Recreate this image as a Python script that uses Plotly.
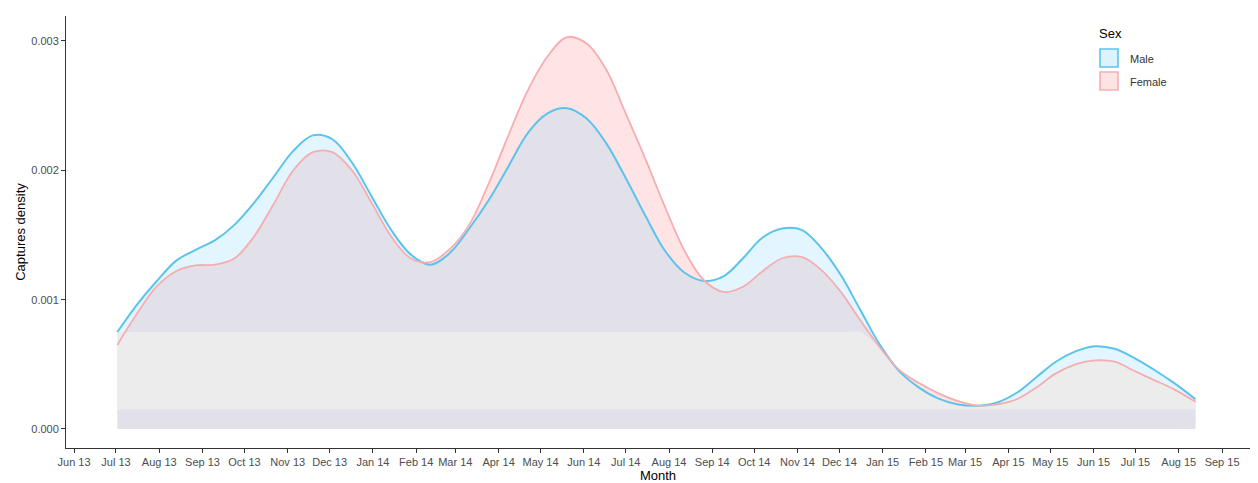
import plotly.graph_objects as go

dates = [
    "2013-07-02", "2013-07-16", "2013-07-30", "2013-08-13", "2013-08-27", "2013-09-10",
    "2013-09-24", "2013-10-08", "2013-10-22", "2013-11-05", "2013-11-19", "2013-12-03",
    "2013-12-17", "2013-12-31", "2014-01-14", "2014-01-28", "2014-02-11", "2014-02-25",
    "2014-03-11", "2014-03-25", "2014-04-08", "2014-04-22", "2014-05-06", "2014-05-20",
    "2014-06-03", "2014-06-17", "2014-07-01", "2014-07-15", "2014-07-29", "2014-08-12",
    "2014-08-26", "2014-09-09", "2014-09-23", "2014-10-07", "2014-10-21", "2014-11-04",
    "2014-11-18", "2014-12-02", "2014-12-16", "2014-12-30", "2015-01-13", "2015-01-27",
    "2015-02-10", "2015-02-24", "2015-03-10", "2015-03-24", "2015-04-07", "2015-04-21",
    "2015-05-05", "2015-05-19", "2015-06-02", "2015-06-16", "2015-06-30", "2015-07-14",
    "2015-07-28", "2015-08-13",
]

male = [
    0.75, 0.96, 1.14, 1.30, 1.385, 1.46, 1.58, 1.75, 1.95, 2.15, 2.27, 2.24,
    2.06, 1.80, 1.54, 1.35, 1.27, 1.36, 1.55, 1.77, 2.03, 2.29, 2.44, 2.48,
    2.40, 2.21, 1.94, 1.65, 1.38, 1.21, 1.145, 1.18, 1.32, 1.48, 1.55, 1.54,
    1.40, 1.19, 0.92, 0.65, 0.445, 0.32, 0.235, 0.19, 0.18, 0.205, 0.28, 0.40,
    0.52, 0.60, 0.64, 0.62, 0.55, 0.46, 0.36, 0.23,
]
male = [v / 1000 for v in male]

female = [
    0.65, 0.89, 1.10, 1.22, 1.265, 1.27, 1.32, 1.49, 1.74, 2.00, 2.14, 2.14,
    2.00, 1.75, 1.49, 1.32, 1.29, 1.39, 1.58, 1.90, 2.27, 2.62, 2.88, 3.03,
    2.98, 2.78, 2.44, 2.09, 1.72, 1.38, 1.15, 1.06, 1.10, 1.22, 1.32, 1.33,
    1.23, 1.06, 0.84, 0.63, 0.455, 0.355, 0.275, 0.215, 0.18, 0.19, 0.23, 0.32,
    0.43, 0.50, 0.53, 0.52, 0.45, 0.38, 0.31, 0.21,
]
female = [v / 1000 for v in female]

band_low = 0.00015
band_high = 0.00075

y_ticks = [0.0, 0.001, 0.002, 0.003]
legend_title = "Sex"
legend_names = ["Male", "Female"]

MALE_LINE = "#5CC3EC"
FEMALE_LINE = "#F6ADB1"
MALE_FILL = "rgba(113,208,255,0.2)"
FEMALE_FILL = "rgba(248,118,118,0.2)"
FONT = "Liberation Sans, Arial, sans-serif"

fig = go.Figure()

# filled areas
fig.add_trace(go.Scatter(x=dates, y=female, mode="lines", fill="tozeroy",
                         fillcolor=FEMALE_FILL, line=dict(width=0, shape="spline"),
                         showlegend=False, hoverinfo="skip"))
fig.add_trace(go.Scatter(x=dates, y=male, mode="lines", fill="tozeroy",
                         fillcolor=MALE_FILL, line=dict(width=0, shape="spline"),
                         showlegend=False, hoverinfo="skip"))

# grey rendering band
band_top = [band_high if max(m, f) >= band_high else min(m, f) for m, f in zip(male, female)]
fig.add_trace(go.Scatter(x=dates, y=[band_low] * len(dates), mode="lines",
                         line=dict(width=0), showlegend=False, hoverinfo="skip"))
fig.add_trace(go.Scatter(x=dates, y=band_top, mode="lines", fill="tonexty",
                         fillcolor="#ECECEC", line=dict(width=0, shape="spline", smoothing=0.6),
                         showlegend=False, hoverinfo="skip"))

# outlines
fig.add_trace(go.Scatter(x=dates, y=male, mode="lines", name="Male",
                         line=dict(color=MALE_LINE, width=2, shape="spline"),
                         showlegend=False))
fig.add_trace(go.Scatter(x=dates, y=female, mode="lines", name="Female",
                         line=dict(color=FEMALE_LINE, width=1.8, shape="spline"),
                         showlegend=False))

# hand-drawn legend (paper coordinates of the plot area)
def px(X):
    return (X - 66) / 1184


def py(Y):
    return (448 - Y) / 432


fig.add_annotation(text=legend_title, x=px(1097), y=py(33), xref="paper", yref="paper",
                   xanchor="left", yanchor="middle", showarrow=False,
                   font=dict(size=13, color="black"))
key_fills = ["rgb(221,243,252)", "rgb(253,228,228)"]
key_lines = [MALE_LINE, FEMALE_LINE]
for i, name in enumerate(legend_names):
    top = 49 + 23 * i
    fig.add_shape(type="rect", xref="paper", yref="paper",
                  x0=px(1100), x1=px(1118), y0=py(top + 18), y1=py(top),
                  fillcolor=key_fills[i], line=dict(color=key_lines[i], width=1.6))
    fig.add_annotation(text=name, x=px(1128), y=py(top + 10), xref="paper", yref="paper",
                       xanchor="left", yanchor="middle", showarrow=False,
                       font=dict(size=11, color="#333333"))

# The page adds an 8px body margin, so the figure is 8px smaller than the window
fig.update_layout(
    width=1250, height=475,
    margin=dict(l=58, r=8, t=8, b=35),
    plot_bgcolor="white", paper_bgcolor="white",
    font=dict(family=FONT, color="#4D4D4D", size=11),
    showlegend=False,
    xaxis=dict(
        range=["2013-05-26 06:00", "2015-09-21"],
        tick0="2013-06-01", dtick="M1", tickformat="%b %y",
        ticks="outside", ticklen=4, tickcolor="#333333",
        showline=True, linecolor="#333333", linewidth=1,
        showgrid=False, zeroline=False, automargin=False,
        tickfont=dict(size=11, color="#4D4D4D"),
        title=dict(text="Month", font=dict(size=13, color="black"), standoff=0),
    ),
    yaxis=dict(
        range=[-0.000147, 0.003193],
        tickvals=y_ticks, tickformat=".3f",
        ticks="outside", ticklen=4, tickcolor="#333333",
        showline=True, linecolor="#333333", linewidth=1,
        showgrid=False, zeroline=False, automargin=False,
        tickfont=dict(size=11, color="#4D4D4D"),
        title=dict(text="Captures density", font=dict(size=13, color="black"), standoff=2),
    ),
)

fig.write_html("out.html")
